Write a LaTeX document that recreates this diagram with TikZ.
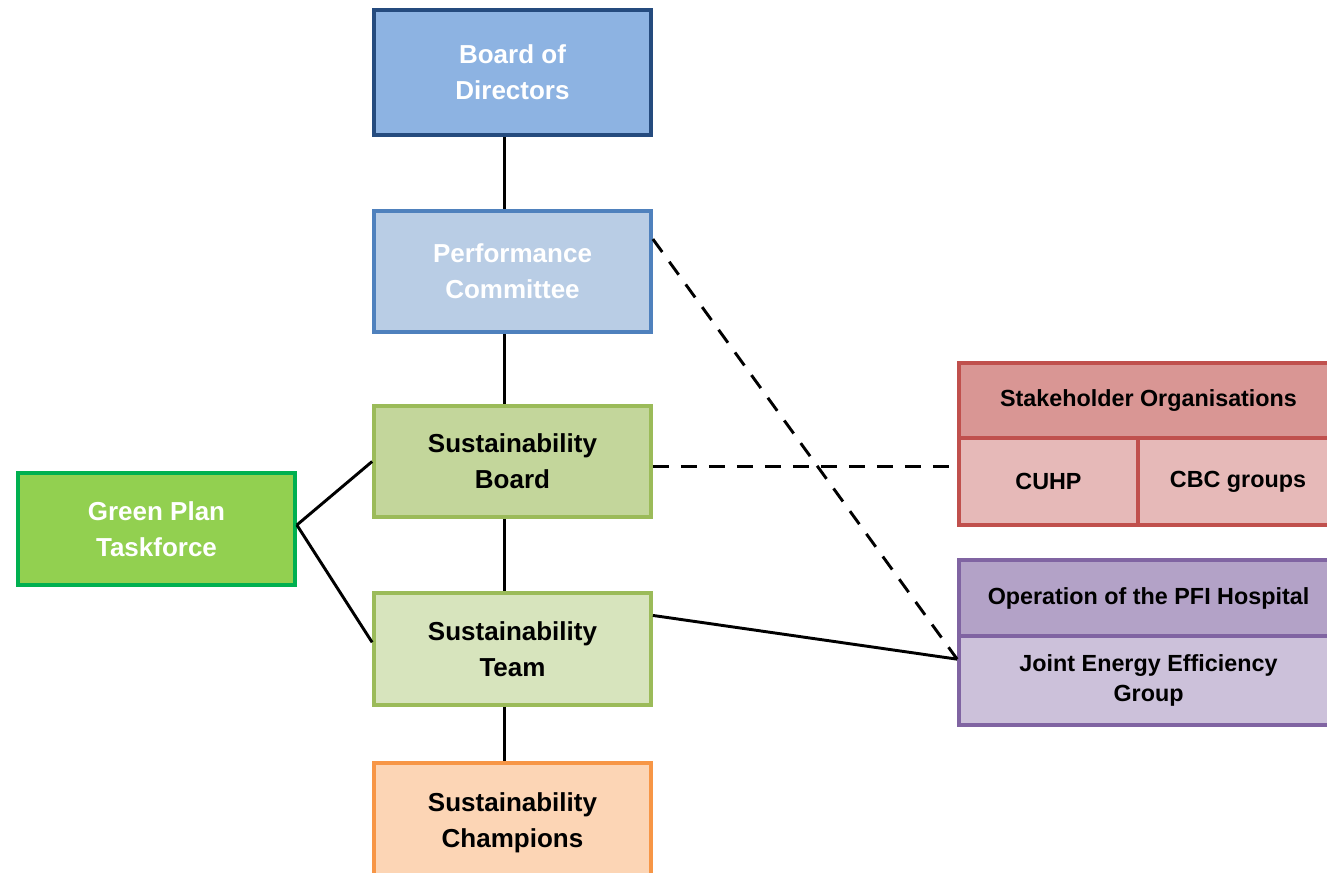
\documentclass[tikz,border=0pt]{standalone}
\usepackage{fontspec}
\setmainfont{Liberation Sans}
\usetikzlibrary{positioning, calc}
\definecolor{bodfill}{HTML}{8DB3E2}
\definecolor{boddraw}{HTML}{254B7E}
\definecolor{pcfill}{HTML}{B9CDE5}
\definecolor{pcdraw}{HTML}{4F81BD}
\definecolor{sbfill}{HTML}{C3D69B}
\definecolor{stfill}{HTML}{D7E4BD}
\definecolor{sgreen}{HTML}{9BBB59}
\definecolor{scfill}{HTML}{FCD5B5}
\definecolor{scdraw}{HTML}{F79646}
\definecolor{gptfill}{HTML}{92D050}
\definecolor{gptdraw}{HTML}{00B050}
\definecolor{sohead}{HTML}{D99694}
\definecolor{sosub}{HTML}{E6B9B8}
\definecolor{sodraw}{HTML}{C0504D}
\definecolor{pfihead}{HTML}{B3A2C7}
\definecolor{pfisub}{HTML}{CCC1DA}
\definecolor{pfidraw}{HTML}{8064A2}

\tikzset{
  orgbox/.style={draw, rectangle, line width=2.8pt, inner sep=0pt,
    minimum width=207.75pt, align=center,
    font=\bfseries\fontsize{19.5}{27}\selectfont},
  sidebox/.style={draw, rectangle, line width=2.8pt, inner sep=0pt,
    align=center, font=\bfseries\fontsize{17.5}{24}\selectfont},
  link/.style={line width=2.2pt},
  dashlink/.style={link, dash pattern=on 12pt off 9pt}
}

\begin{document}
\begin{tikzpicture}[x=0.75pt, y=-0.75pt]
  \useasboundingbox (0,0) rectangle (1327,873);

  % main chain
  \node[orgbox, fill=bodfill, draw=boddraw, line width=3.6pt, minimum height=93.75pt,
        text=white] (bod) at (512.5,72.5) {Board of\\Directors};
  \node[orgbox, fill=pcfill, draw=pcdraw, minimum height=90.75pt,
        text=white] (pc) at (512.5,271.5) {Performance\\Committee};
  \node[orgbox, fill=sbfill, draw=sgreen, minimum height=83.25pt]
        (sb) at (512.5,461.5) {Sustainability\\Board};
  \node[orgbox, fill=stfill, draw=sgreen, minimum height=84pt]
        (st) at (512.5,649) {Sustainability\\Team};
  \node[orgbox, fill=scfill, draw=scdraw, minimum height=90pt]
        (sc) at (512.5,823) {Sustainability\\Champions};

  % taskforce on the left
  \node[orgbox, fill=gptfill, draw=gptdraw, minimum height=84pt,
        text=white] (gpt) at (156.5,529) {Green Plan\\Taskforce};

  % partner groups on the right
  \node[sidebox, fill=sohead, draw=sodraw, minimum width=284.25pt,
        minimum height=56.25pt] (stake) at (1148.5,400.5) {Stakeholder Organisations};
  \node[sidebox, fill=sosub, draw=sodraw, minimum width=134.25pt,
        minimum height=65.25pt] (cuhp) at (1048.5,481.5) {CUHP};
  \node[sidebox, fill=sosub, draw=sodraw, minimum width=150pt,
        minimum height=65.25pt] (cbc) at (1238,481.5) {CBC groups};

  \node[sidebox, fill=pfihead, draw=pfidraw, minimum width=284.25pt,
        minimum height=57pt] (pfi) at (1148.5,598) {Operation of the PFI Hospital};
  \node[sidebox, fill=pfisub, draw=pfidraw, minimum width=284.25pt,
        minimum height=66.75pt, font=\bfseries\fontsize{17.5}{23}\selectfont]
        (jeeg) at (1148.5,680.5) {Joint Energy Efficiency\\Group};

  % reporting lines, a little left of centre
  \draw[link] ([xshift=-6pt]bod.south) -- ([xshift=-6pt]pc.north);
  \draw[link] ([xshift=-6pt]pc.south) -- ([xshift=-6pt]sb.north);
  \draw[link] ([xshift=-6pt]sb.south) -- ([xshift=-6pt]st.north);
  \draw[link] ([xshift=-6pt]st.south) -- ([xshift=-6pt]sc.north);
  \coordinate (gptout) at ([yshift=3pt]gpt.east);
  \draw[link] (gptout) -- (sb.west);
  \draw[link] (gptout) -- ([yshift=5pt]st.west);

  \coordinate (jeegin) at ($(jeeg.north west)!0.27!(jeeg.south west)$);
  \draw[link] ($(st.north east)!0.21!(st.south east)$) -- (jeegin);
  \draw[dashlink] ($(pc.north east)!0.24!(pc.south east)$) -- (jeegin);
  \draw[dashlink] ([yshift=-3.5pt]sb.east) -- ([yshift=-3.5pt]sb.east -| cuhp.west);
\end{tikzpicture}
\end{document}
